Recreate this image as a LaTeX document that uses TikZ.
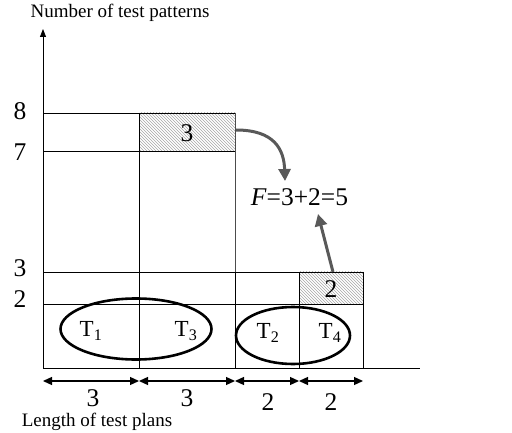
\documentclass[tikz,border=0pt]{standalone}
\usepackage{fontspec}
\setmainfont{Liberation Serif}
\usetikzlibrary{arrows.meta,patterns,shapes.geometric}
\begin{document}
\begin{tikzpicture}[x=1pt,y=-1pt,
  grid/.style={line width=0.8pt,draw=black},
  big/.style={font=\fontsize{25.5}{27}\selectfont,inner sep=0pt},
  tlab/.style={font=\fontsize{23}{25}\selectfont,inner sep=0pt},
  axlab/.style={font=\fontsize{19}{21}\selectfont,inner sep=0pt},
  hatch/.style={pattern=north west lines,pattern color=gray!70,draw=gray!80!black,line width=0.8pt},
  dim/.style={line width=1.3pt,{Triangle[length=9pt,width=8pt]}-{Triangle[length=9pt,width=8pt]}},
  ell/.style={draw,ellipse,line width=2.6pt,inner sep=0pt},
  farrow/.style={draw=black!65,line width=3pt,-{Triangle[length=12pt,width=12pt]}}]
\useasboundingbox (0,0) rectangle (512,433);
% hatched boxes
\path[hatch] (139,113) rectangle (235,151);
\path[hatch] (299,272) rectangle (363,304);
% grid
\draw[grid] (43,113) rectangle (235,368);
\draw[grid] (43,151) -- (235,151);
\draw[grid] (43,272) -- (363,272);
\draw[grid] (43,304) -- (363,304);
\draw[grid] (139,113) -- (139,368);
\draw[grid,draw=black!70] (235,113) -- (235,368);
\draw[grid] (235,272) rectangle (363,368);
\draw[grid] (299,272) -- (299,368);
% axes
\coordinate (o) at (43,368);
\coordinate (ytop) at (43,29);
\coordinate (xend) at (420,368);
\draw[line width=0.8pt,-{Triangle[length=8pt,width=6pt]}] (o) -- (ytop);
\draw[line width=0.8pt] (o) -- (xend);
% axis labels
\node[axlab] (ylab) at (120,13) {Number of test patterns};
\node[axlab] (xlab) at (97,421.5) {Length of test plans};
\node[big] (l8) at (20,111) {8};
\node[big] (l7) at (20,152) {7};
\node[big] (l3) at (20,268) {3};
\node[big] (l2) at (20,299) {2};
% hatched labels
\node[big] (h3) at (187,133) {3};
\coordinate (h3e) at (236,130);
\node[big] (h2) at (331,289) {2};
\coordinate (h2n) at (333,272);
% F
\node[big] (F) at (299.5,197) {\textit{F}=3+2=5};
% ellipses
\node[ell,minimum width=151pt,minimum height=61pt] (e1) at (136,329) {};
\node[ell,minimum width=114pt,minimum height=57pt] (e2) at (293,335.5) {};
\node[tlab] (t1) at (91,331) {T\textsubscript{1}};
\node[tlab] (t3) at (186,331) {T\textsubscript{3}};
\node[tlab] (t2) at (268,333) {T\textsubscript{2}};
\node[tlab] (t4) at (330,333) {T\textsubscript{4}};
% arrows to F
\draw[farrow] (h3e) .. controls (275,130) and (284,150) .. (285,181);
\draw[farrow] (h2n) -- (318,214);
% dimension arrows
\coordinate (d0) at (43,381);
\coordinate (d1) at (139,381);
\coordinate (d2) at (235,381);
\coordinate (d3) at (299,381);
\coordinate (d4) at (363,381);
\draw[dim] (d0) -- (d1);
\draw[dim] (d1) -- (d2);
\draw[dim] (d2) -- (d3);
\draw[dim] (d3) -- (d4);
\node[big] (n1) at (93,398.5) {3};
\node[big] (n2) at (187,398.5) {3};
\node[big] (n3) at (268,402) {2};
\node[big] (n4) at (331,402) {2};
\end{tikzpicture}
\end{document}
